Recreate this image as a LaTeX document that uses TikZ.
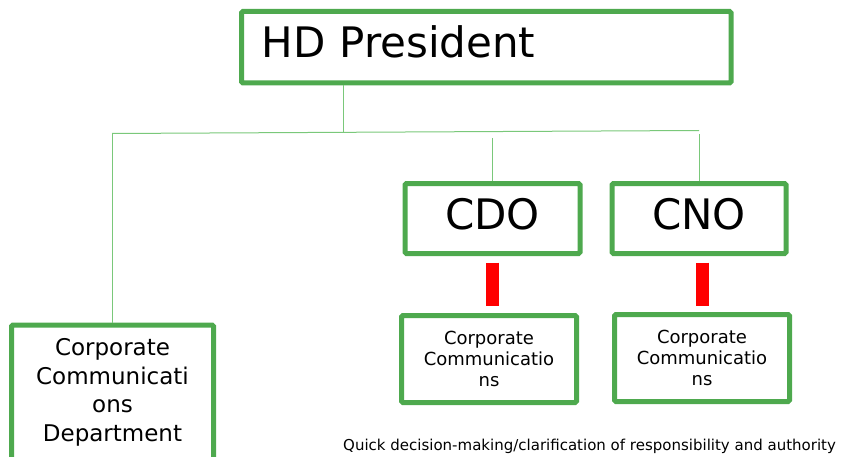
\documentclass[tikz,border=0pt]{standalone}
\usepackage{fontspec}
\setmainfont{DejaVu Sans}
\definecolor{boxgreen}{HTML}{4EA94E}
\definecolor{linkgreen}{HTML}{7AC87A}
\definecolor{barred}{HTML}{FF0000}
\begin{document}
\begin{tikzpicture}[x=1pt,y=-1pt,
  orgbox/.style={draw=boxgreen, line width=5pt, rounded corners=1.5pt, fill=white},
  link/.style={draw=linkgreen, line width=1pt},
  redbar/.style={draw=barred, line width=13pt},
  bigfont/.style={font=\fontsize{42}{50}\selectfont},
  unitfont/.style={font=\fontsize{18}{21}\selectfont},
  deptfont/.style={font=\fontsize{23}{28.5}\selectfont}]
\useasboundingbox (0,0) rectangle (853,457);

% top level
\node[orgbox, bigfont, minimum height=71.5pt, text width=449.5pt, inner xsep=20pt,
      align=left, text height=30.6pt, text depth=9.5pt] (hd) at (486.25,47.25) {HD President};

% officers
\node[orgbox, bigfont, minimum width=175pt, minimum height=70pt,
      text height=30.6pt, text depth=9.5pt] (cdo) at (492.5,218.5) {CDO};
\node[orgbox, bigfont, minimum width=174pt, minimum height=70pt,
      text height=30.6pt, text depth=9.5pt] (cno) at (699,218.5) {CNO};

% communications units
\node[orgbox, unitfont, minimum width=175pt, minimum height=87pt, text width=160pt,
      inner xsep=7.5pt, align=center] (cc1) at (489,359) {Corporate\\Communicatio\\ns};
\node[orgbox, unitfont, minimum width=175pt, minimum height=87pt, text width=160pt,
      inner xsep=7.5pt, align=center] (cc2) at (702,358) {Corporate\\Communicatio\\ns};
\node[orgbox, deptfont, anchor=north, minimum width=202pt, text width=180pt,
      inner xsep=11pt, inner ysep=13.5pt, align=center, text depth=160pt] (ccd)
      at (112.5,322.5) {Corporate\\Communicati\\ons\\Department};

% connector junctions
\coordinate (jl) at (112,133.5);
\coordinate (jr) at (699,130.5);
\coordinate (jm) at (343,132.3);
\coordinate (cdoin) at (492.5,138);
\coordinate (cnoin) at (699,134);

\draw[link] (hd.south -| jm) -- (jm);
\draw[link] (jl) -- (jr);
\draw[link] (jl) -- (ccd.north -| jl);
\draw[link] (cdoin) -- (cdo.north);
\draw[link] (cnoin) -- (cno.north);

% direct reporting bars
\draw[redbar, shorten <=6.5pt, shorten >=7.5pt] (cdo.south) -- (cc1.north -| cdo.south);
\draw[redbar, shorten <=6.5pt, shorten >=6.5pt] (cno.south -| cc2) -- (cc2.north);

% caption
\node[anchor=base west, inner sep=0pt, font=\fontsize{15}{18}\selectfont] (note)
  at (343,450) {Quick decision-making/clarification of responsibility and authority};
\end{tikzpicture}
\end{document}
